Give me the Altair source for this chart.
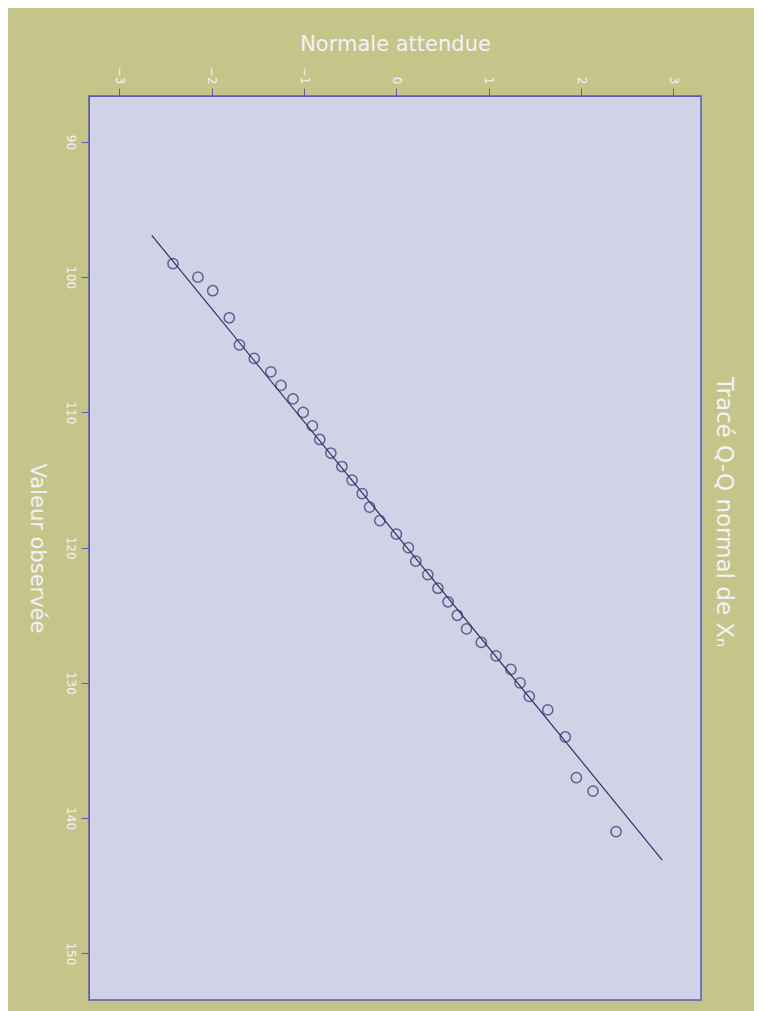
import altair as alt
import pandas as pd

expected = [-2.42, -2.15, -1.99, -1.81, -1.70, -1.54, -1.36, -1.25, -1.12, -1.01,
            -0.91, -0.83, -0.71, -0.59, -0.48, -0.37, -0.29, -0.18, 0.00, 0.13,
            0.21, 0.34, 0.45, 0.56, 0.66, 0.76, 0.92, 1.08, 1.24, 1.34,
            1.44, 1.64, 1.83, 1.95, 2.13, 2.38]
observed = [99, 100, 101, 103, 105, 106, 107, 108, 109, 110,
            111, 112, 113, 114, 115, 116, 117, 118, 119, 120,
            121, 122, 123, 124, 125, 126, 127, 128, 129, 130,
            131, 132, 134, 137, 138, 141]

# Reference line endpoints
line_expected = [-2.65, 2.88]
line_observed = [96.9, 143.1]

x_ticks = [-3, -2, -1, 0, 1, 2, 3]
y_ticks = [90, 100, 110, 120, 130, 140, 150]

BG = "#C6C589"
PLOT_BG = "#D1D2E6"
TEXT = "#F2F2FA"
AXIS = "#5A5AB8"
MARK = "#30306E"

pts = pd.DataFrame({"q": expected, "v": observed})
ln = pd.DataFrame({"q": line_expected, "v": line_observed})

xscale = alt.Scale(domain=[-3.33, 3.30], nice=False, zero=False)
yscale = alt.Scale(domain=[86.6, 153.45], nice=False, zero=False, reverse=True)

xaxis = alt.Axis(orient="top", values=x_ticks, labelAngle=90, title="Normale attendue",
                 titleFontSize=21, titleFontWeight="normal", titleColor=TEXT,
                 titlePadding=12, labelFontSize=12, labelColor=TEXT, labelPadding=4,
                 tickSize=8, tickColor=AXIS, domainColor=AXIS, grid=False,
                 labelFont="DejaVu Sans", titleFont="DejaVu Sans")
yaxis = alt.Axis(orient="left", values=y_ticks, labelAngle=90, title="Valeur observée",
                 titleAngle=90, titleFontSize=21, titleFontWeight="normal", titleColor=TEXT,
                 titlePadding=38, labelFontSize=12, labelColor=TEXT, labelPadding=6,
                 tickSize=8, tickColor=AXIS, domainColor=AXIS, grid=False,
                 labelFont="DejaVu Sans", titleFont="DejaVu Sans")

line = alt.Chart(ln).mark_line(color=MARK, strokeWidth=1.2).encode(
    x=alt.X("q:Q", scale=xscale, axis=xaxis),
    y=alt.Y("v:Q", scale=yscale, axis=yaxis),
)
points = alt.Chart(pts).mark_point(shape="circle", filled=False, size=105,
                                   color=MARK, strokeWidth=1.5).encode(
    x=alt.X("q:Q", scale=xscale, axis=xaxis),
    y=alt.Y("v:Q", scale=yscale, axis=yaxis),
)

chart = alt.layer(line, points).properties(
    width=612,
    height=904,
    autosize=alt.AutoSizeParams(type="none"),
    padding={"left": 81, "top": 88, "right": 53, "bottom": 11},
    background=BG,
    title=alt.TitleParams("Tracé Q-Q normal de Xₙ", orient="right", angle=90,
                          anchor="middle", fontSize=23, fontWeight="normal",
                          color=TEXT, offset=11, font="DejaVu Sans", dx=-36),
).configure_view(
    fill=PLOT_BG, stroke=AXIS, strokeWidth=1.5,
)

chart.save("out.html", embed_options={"renderer": "svg", "actions": False})
